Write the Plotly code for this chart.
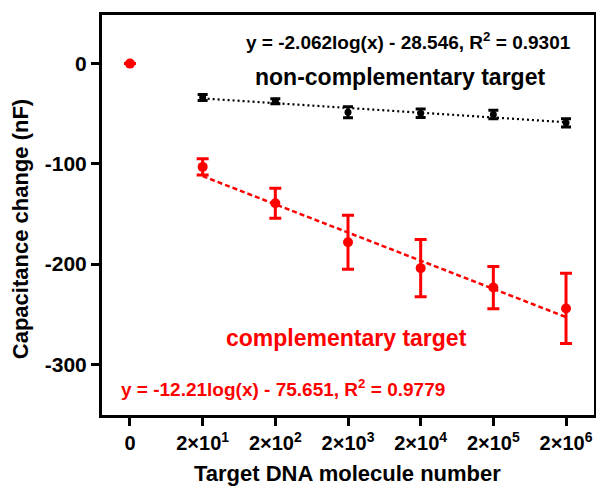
import numpy as np
import plotly.graph_objects as go

# ---- data ----
tick_labels = ["0", "2×10<sup>1</sup>", "2×10<sup>2</sup>", "2×10<sup>3</sup>",
               "2×10<sup>4</sup>", "2×10<sup>5</sup>", "2×10<sup>6</sup>"]
exponents = [1, 2, 3, 4, 5, 6]                 # target = 2 × 10^k
comp_zero = 0.0                                 # value at "0" target
comp_values = [-103, -139.3, -178.2, -204, -223.4, -244.2]
comp_errors = [8, 15, 27, 28.5, 21, 35]
noncomp_values = [-33.7, -37.6, -48.5, -49.5, -50.8, -59.1]
noncomp_errors = [3, 2.5, 5.6, 4.3, 4.2, 4.2]
comp_fit = (-12.21, -75.651)      # y = a*ln(x) + b
noncomp_fit = (-2.062, -28.546)

FONT = "Liberation Sans, Arial, sans-serif"
RED = "#ff0000"

pos = list(range(1, len(exponents) + 1))
xvals = np.array([2 * 10 ** k for k in exponents], dtype=float)

fig = go.Figure()

# fit lines
fig.add_trace(go.Scatter(
    x=pos, y=comp_fit[0] * np.log(xvals) + comp_fit[1], mode="lines",
    line=dict(color=RED, width=2.5, dash="5px,3px"), showlegend=False, hoverinfo="skip"))
fig.add_trace(go.Scatter(
    x=pos, y=noncomp_fit[0] * np.log(xvals) + noncomp_fit[1], mode="lines",
    line=dict(color="black", width=2.2, dash="2px,3px"), showlegend=False, hoverinfo="skip"))

# data points
fig.add_trace(go.Scatter(
    x=pos, y=noncomp_values, mode="markers",
    marker=dict(color="black", size=7, symbol="circle"),
    error_y=dict(type="data", array=noncomp_errors, visible=True, color="black",
                 thickness=3, width=5),
    showlegend=False))
fig.add_trace(go.Scatter(
    x=[0] + pos, y=[comp_zero] + comp_values, mode="markers",
    marker=dict(color=RED, size=10, symbol="circle"),
    error_y=dict(type="data", array=[0] + comp_errors, visible=True, color=RED,
                 thickness=3, width=6),
    showlegend=False))

bold = dict(family=FONT, weight="bold")

# the page body has an 8px default margin, so the figure is 8px smaller
fig.update_layout(
    width=596, height=489,
    margin=dict(l=94, r=10, t=4, b=82),
    paper_bgcolor="white", plot_bgcolor="white",
    font=dict(family=FONT, color="black"),
    xaxis=dict(range=[-0.385, 6.385], tickvals=list(range(7)), ticktext=tick_labels,
               showgrid=False, zeroline=False, showline=True, linecolor="black",
               linewidth=3, mirror=True, ticks="outside", ticklen=8, tickwidth=3,
               tickcolor="black", tickfont=dict(size=20, color="black", **bold)),
    yaxis=dict(range=[-350.5, 48.5], tickvals=[0, -100, -200, -300],
               ticktext=["0", "-100", "-200", "-300"],
               showgrid=False, zeroline=False, showline=True, linecolor="black",
               linewidth=3, mirror=True, ticks="outside", ticklen=8, tickwidth=3,
               tickcolor="black", tickfont=dict(size=21, color="black", **bold)),
)

annos = [
    dict(x=3.826, y=22.8, text="y = -2.062log(x) - 28.546, R<sup>2</sup> = 0.9301",
         font=dict(size=19, color="black", **bold)),
    dict(x=3.715, y=-12.9, text="non-complementary target",
         font=dict(size=23, color="black", **bold)),
    dict(x=2.986, y=-273.3, text="complementary target",
         font=dict(size=23, color=RED, **bold)),
    dict(x=2.105, y=-323.8, text="y = -12.21log(x) - 75.651, R<sup>2</sup> = 0.9779",
         font=dict(size=19, color=RED, **bold)),
]
for a in annos:
    fig.add_annotation(xref="x", yref="y", showarrow=False, xanchor="center",
                       yanchor="middle", **a)

fig.add_annotation(xref="paper", yref="paper", x=0.498, y=-0.146, showarrow=False,
                   text="Target DNA molecule number", xanchor="center", yanchor="middle",
                   font=dict(size=22, color="black", **bold))
fig.add_annotation(xref="paper", yref="paper", x=-0.165, y=0.464, showarrow=False,
                   text="Capacitance change (nF)", textangle=-90, xanchor="center",
                   yanchor="middle", borderpad=0,
                   font=dict(size=22, color="black", **bold))

fig.write_html("out.html")
